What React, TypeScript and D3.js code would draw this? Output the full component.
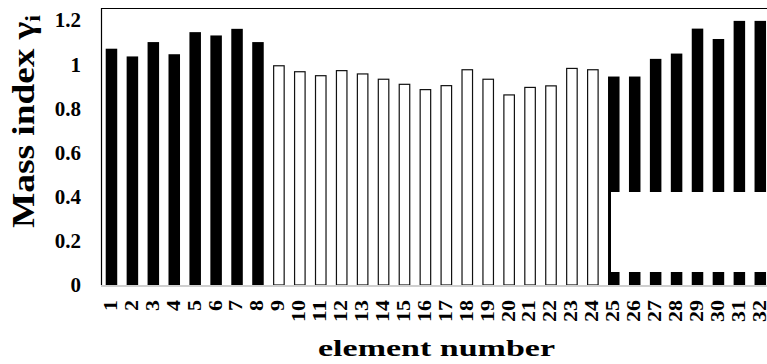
import React from 'react';
import * as d3 from 'd3';

// element numbers along the x axis
const elements = [
  '1', '2', '3', '4', '5', '6', '7', '8', '9', '10', '11', '12', '13', '14', '15', '16',
  '17', '18', '19', '20', '21', '22', '23', '24', '25', '26', '27', '28', '29', '30', '31', '32',
];

// mass index per element
const massIndex = [
  1.07, 1.035, 1.1, 1.045, 1.145, 1.13, 1.16, 1.1,
  0.995, 0.968, 0.95, 0.973, 0.958, 0.934, 0.911, 0.887,
  0.905, 0.977, 0.934, 0.863, 0.897, 0.904, 0.983, 0.977,
  0.944, 0.944, 1.024, 1.048, 1.161, 1.114, 1.196, 1.196,
];

// elements drawn as solid black bars, the rest are hollow
const solidElements = ['1', '2', '3', '4', '5', '6', '7', '8', '25', '26', '27', '28', '29', '30', '31', '32'];

const yTicks = [0, 0.2, 0.4, 0.6, 0.8, 1, 1.2];
const yTickLabels = ['0', '0.2', '0.4', '0.6', '0.8', '1', '1.2'];

const width = 767;
const height = 364;
const textStyle = { fontFamily: "'Liberation Serif', Tinos, 'Times New Roman', Times, serif", fontWeight: 700 };

const App = () => {
  const plotLeft = 101;
  const plotTop = 8;
  const baseline = 285;

  const x = d3
    .scaleBand<string>()
    .domain(elements)
    .range([plotLeft, plotLeft + 32 * 20.93])
    .paddingInner(0.45)
    .paddingOuter(0.225);

  const y = d3.scaleLinear().domain([0, 1.2]).range([baseline, 20]);

  return (
    <svg
      width={width}
      height={height}
      style={{ position: 'absolute', left: 0, top: 0, display: 'block', background: '#fff' }}
    >
      {/* plot frame */}
      <line x1={plotLeft} x2={width} y1={plotTop + 0.5} y2={plotTop + 0.5} stroke="#000" strokeWidth={1.2} />
      <line x1={plotLeft + 0.5} x2={plotLeft + 0.5} y1={plotTop} y2={baseline} stroke="#000" strokeWidth={1.2} />

      {/* bars */}
      {elements.map((el, i) => {
        const solid = solidElements.includes(el);
        const x0 = x(el) as number;
        const top = y(massIndex[i]);
        return solid ? (
          <rect key={el} x={x0} y={top} width={x.bandwidth()} height={baseline - top} fill="#000" />
        ) : (
          <rect
            key={el}
            x={x0 + 0.5}
            y={top + 0.5}
            width={x.bandwidth() - 1}
            height={baseline - top - 0.5}
            fill="#fff"
            stroke="#111"
            strokeWidth={1.2}
          />
        );
      })}

      {/* x axis line */}
      <line x1={plotLeft} x2={width} y1={baseline + 1} y2={baseline + 1} stroke="#cfcfcf" strokeWidth={2} />

      {/* empty legend box */}
      <rect x={611} y={192} width={width - 611} height={80} fill="#fff" />

      {/* y tick labels */}
      {yTicks.map((t, i) => (
        <text key={t} x={81} y={y(t)} dy="0.35em" textAnchor="end" fontSize={21} style={textStyle}>
          {yTickLabels[i]}
        </text>
      ))}

      {/* x tick labels, rotated */}
      {elements.map((el) => {
        const cx = (x(el) as number) + x.bandwidth() / 2;
        return (
          <text
            key={el}
            transform={`translate(${cx},300) rotate(-90)`}
            dy="0.3em"
            textAnchor="end"
            fontSize={18}
            textLength={el.length * 11}
            lengthAdjust="spacingAndGlyphs"
            style={textStyle}
          >
            {el}
          </text>
        );
      })}

      {/* axis titles */}
      <text
        transform="translate(33.5,228) rotate(-90)"
        fontSize={31}
        textLength={213}
        lengthAdjust="spacingAndGlyphs"
        style={textStyle}
      >
        Mass index γ<tspan fontSize={20} dy="6">i</tspan>
      </text>
      <text x={318} y={356} fontSize={23} textLength={237} lengthAdjust="spacingAndGlyphs" style={textStyle}>
        element number
      </text>
    </svg>
  );
};

export default App;
